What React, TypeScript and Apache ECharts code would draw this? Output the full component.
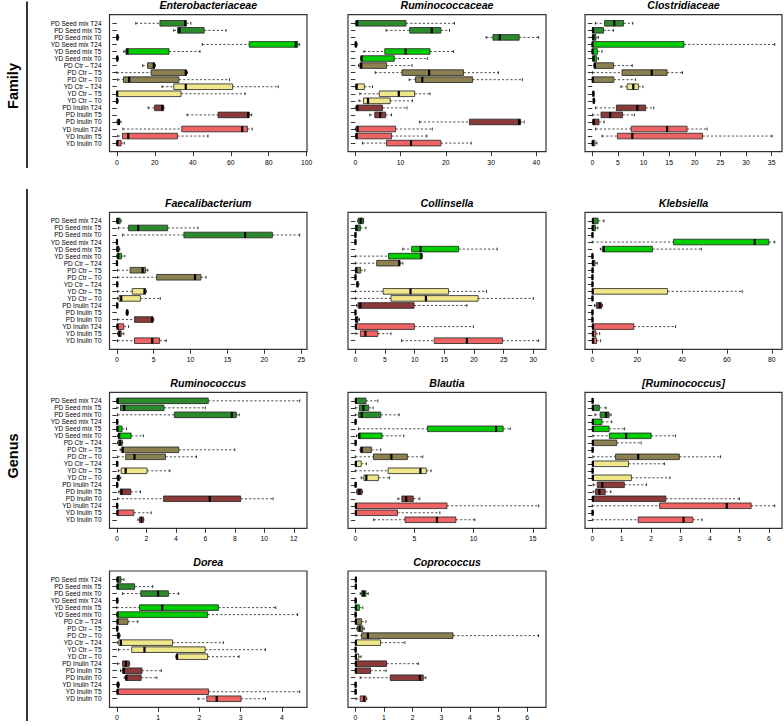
import React, { useEffect, useRef } from 'react';
import * as echarts from 'echarts';

const categories = [
  'PD Seed mix T24', 'PD Seed mix T5', 'PD Seed mix T0',
  'YD Seed mix T24', 'YD Seed mix T5', 'YD Seed mix T0',
  'PD Ctr – T24', 'PD Ctr – T5', 'PD Ctr – T0',
  'YD Ctr – T24', 'YD Ctr – T5', 'YD Ctr – T0',
  'PD Inulin T24', 'PD Inulin T5', 'PD Inulin T0',
  'YD Inulin T24', 'YD Inulin T5', 'YD Inulin T0',
];

const groupColors = ['#2b8a2b', '#00cd00', '#8b8050', '#f0e68c', '#8b3a3a', '#ee6363'];

// each row: [lower whisker, Q1, median, Q3, upper whisker]
const enterobacteriaceae = [
  [10, 22.7, 36, 36.6, 39], [30, 32, 33, 46, 57.5], [0, 0.1, 0.3, 0.6, 1],
  [45, 69.7, 94.2, 95.3, 96.3], [3.7, 4.8, 5.6, 27.5, 43.8], [0, 0.1, 0.2, 0.5, 0.8],
  [13.6, 16.2, 19.5, 19.9, 20.3], [0, 18.1, 36.3, 36.6, 37.2], [0.5, 3.5, 6.5, 32.7, 59.3],
  [23.8, 30, 36.3, 61, 85], [0, 0, 0.2, 33.8, 67.6], [0, 0, 0.1, 0.4, 0.7],
  [16.5, 19.9, 24, 24.5, 24.8], [37, 53.3, 69.2, 69.7, 71], [0, 0.5, 1, 1.4, 2.2],
  [3.2, 34.2, 66, 68.8, 71.3], [0.5, 3, 6, 31.9, 48], [0, 0.1, 0.3, 2.3, 3.9],
];
const ruminococcaceae = [
  [0, 0.1, 0.4, 11.2, 21.9], [6.8, 12, 16.9, 18.9, 20.8], [28.9, 30.4, 31.9, 36.2, 40.5],
  [0, 0, 0.1, 0.3, 0.4], [1.9, 6.5, 11.1, 16.5, 21.7], [1.2, 1.25, 1.4, 8.6, 15.9],
  [0.7, 1, 1.3, 6.9, 12.5], [4.4, 10.3, 16.3, 23.9, 31.6], [11.9, 13.3, 14.8, 25.9, 36.9],
  [0, 0.1, 0.3, 2, 3.8], [1, 5.3, 9.6, 13.1, 16.5], [0.8, 1.8, 2.8, 7.7, 12.6],
  [0, 0.2, 0.45, 6, 11.4], [3.2, 4.3, 5.5, 6.7, 8], [14.2, 25.2, 36.2, 36.5, 37.3],
  [0, 0.2, 0.5, 8.9, 17], [0, 0.1, 0.3, 8, 15.8], [1.6, 6.9, 12.3, 18.9, 25.6],
];
const clostridiaceae = [
  [0.6, 2.4, 4.3, 6.1, 7.9], [0, 0.05, 0.15, 2.2, 4.1], [0, 0.05, 0.2, 0.7, 1.2],
  [0, 0, 0.05, 17.9, 35.6], [0, 0, 0.05, 1, 1.9], [0.05, 0.1, 0.25, 0.85, 1.2],
  [0.3, 0.4, 0.5, 4.15, 7.8], [0.05, 5.8, 11.6, 14.6, 17.6], [0, 0.02, 0.1, 4.2, 8.4],
  [5.6, 6.8, 8, 9, 9.9], [0.1, 0.15, 0.2, 0.3, 0.35], [0.15, 0.2, 0.3, 0.4, 0.5],
  [0.65, 4.7, 8.8, 10.4, 12], [0.05, 1.7, 3.5, 5.9, 8.2], [0.05, 0.1, 0.3, 1.3, 2.3],
  [0.65, 7.6, 14.6, 18.5, 22.4], [1.9, 4.9, 7.8, 21.5, 35.1], [0, 0.02, 0.1, 0.5, 0.9],
];
const faecalibacterium = [
  [0, 0.02, 0.1, 0.45, 0.6], [0.2, 1.6, 2.9, 6.9, 11], [0.8, 9.1, 17.4, 21.1, 24.8],
  [0, 0, 0.02, 0.05, 0.1], [0, 0.02, 0.1, 0.3, 0.4], [0, 0.05, 0.2, 0.64, 1.1],
  [0, 0, 0.02, 0.05, 0.1], [0.1, 1.8, 3.5, 3.9, 4.2], [0.1, 5.4, 10.6, 11.4, 12.1],
  [0, 0.02, 0.05, 0.1, 0.15], [0.1, 2.1, 3.75, 3.9, 4], [0.1, 0.3, 0.6, 3.2, 5.9],
  [0, 0.02, 0.05, 0.1, 0.15], [1.25, 1.3, 1.4, 1.5, 1.55], [0.1, 2.4, 4.8, 4.9, 5],
  [0, 0.05, 0.1, 0.95, 1.6], [0.1, 0.2, 0.35, 0.6, 0.95], [0.1, 2.4, 4.8, 5.8, 6.7],
];
const collinsella = [
  [0.4, 0.5, 0.9, 1.35, 1.4], [0, 0.05, 0.2, 0.85, 1.8], [0, 0, 0.02, 0.05, 0.1],
  [0, 0, 0.02, 0.05, 0.1], [8, 9.5, 11, 17.4, 23.9], [0, 5.6, 11.1, 11.2, 11.3],
  [0, 3.6, 7.4, 7.5, 8], [0, 0.05, 0.15, 0.9, 1.6], [0, 0, 0.02, 0.05, 0.1],
  [0.2, 0.25, 0.35, 0.5, 0.6], [0, 4.7, 9.3, 15.7, 22.1], [0, 6, 11.9, 20.7, 30],
  [0.2, 0.45, 0.85, 9.9, 18.8], [0, 0, 0.02, 0.05, 0.1], [0, 0.05, 0.15, 0.45, 0.7],
  [0, 0.05, 0.1, 9.95, 19.9], [0.1, 0.85, 1.7, 3.8, 6], [7.8, 13.3, 18.8, 24.8, 30.9],
];
const klebsiella = [
  [0, 0.1, 0.3, 2.6, 5.2], [0, 0.05, 0.2, 1.4, 2.5], [0, 0, 0.05, 0.2, 0.3],
  [0, 36.2, 72.4, 78.7, 81.3], [3.6, 4.5, 5.2, 26.8, 48.6], [0, 0, 0.05, 0.2, 0.3],
  [0, 0.1, 0.3, 1.2, 2.2], [0, 0.02, 0.1, 0.3, 0.5], [0, 0, 0.05, 0.2, 0.3],
  [0, 0, 0.05, 0.2, 0.3], [0, 0.05, 0.2, 33.5, 66.8], [0, 0, 0.05, 0.2, 0.3],
  [1, 1.8, 3.3, 4.15, 4.5], [0, 0, 0.05, 0.2, 0.3], [0, 0, 0.05, 0.2, 0.3],
  [0, 0.1, 0.3, 18.5, 37.1], [0, 0.1, 0.3, 1.6, 3.3], [0, 0.1, 0.3, 1.9, 3.7],
];
const ruminococcus = [
  [0, 0.02, 0.05, 6.2, 12.4], [0, 0.25, 0.5, 3.2, 6], [0.05, 3.9, 7.8, 8.1, 8.3],
  [0, 0, 0.02, 0.05, 0.08], [0, 0.02, 0.05, 0.36, 0.66], [0.05, 0.11, 0.16, 0.97, 1.8],
  [0.05, 0.1, 0.23, 0.36, 0.4], [0.23, 0.34, 0.4, 4.2, 8], [0.05, 0.6, 1.2, 3.3, 5.4],
  [0, 0, 0.02, 0.05, 0.08], [0.1, 0.3, 0.6, 2.05, 3.6], [0, 0.05, 0.1, 0.18, 0.27],
  [0, 0, 0.02, 0.05, 0.08], [0.13, 0.23, 0.32, 0.95, 1.6], [0.05, 3.17, 6.3, 8.4, 10.6],
  [0, 0, 0.02, 0.05, 0.08], [0, 0.02, 0.05, 1.15, 2.33], [1.43, 1.54, 1.67, 1.8, 1.83],
];
const blautia = [
  [0, 0.02, 0.05, 0.9, 1.9], [0, 0.34, 0.68, 1.13, 1.5], [0, 0.28, 0.54, 2.15, 3.7],
  [0, 0, 0.02, 0.05, 0.08], [0.28, 6.1, 11.9, 12.5, 13.1], [0.1, 0.28, 0.34, 2.26, 4.1],
  [0, 0, 0.02, 0.05, 0.08], [0.4, 0.45, 0.54, 1.36, 2.15], [0, 1.53, 3.05, 4.4, 5.7],
  [0, 0.02, 0.05, 0.5, 0.93], [0, 2.77, 5.5, 6.0, 6.4], [0.5, 0.73, 0.93, 1.95, 2.9],
  [0, 0, 0.02, 0.05, 0.08], [0.1, 0.15, 0.35, 0.55, 0.6], [3.6, 3.93, 4.3, 4.9, 5.45],
  [0, 0.02, 0.05, 7.75, 15.5], [0, 0.02, 0.05, 3.56, 7.15], [1.55, 4.2, 6.9, 8.5, 10.1],
];
const ruminococcusBracket = [
  [0, 0, 0.01, 0.02, 0.04], [0, 0.01, 0.02, 0.24, 0.47], [0.09, 0.27, 0.47, 0.57, 0.64],
  [0, 0.01, 0.02, 0.33, 0.66], [0, 0.01, 0.02, 0.57, 1.1], [0.02, 0.58, 1.15, 2.0, 2.83],
  [0, 0.01, 0.02, 0.83, 1.66], [0, 0, 0.01, 0.02, 0.04], [0.02, 0.79, 1.56, 2.96, 4.36],
  [0, 0.01, 0.02, 1.23, 2.45], [0, 0, 0.01, 0.02, 0.04], [0, 0.01, 0.02, 1.33, 2.64],
  [0.03, 0.17, 0.34, 1.09, 1.84], [0.03, 0.11, 0.24, 0.44, 0.63], [0, 0.01, 0.02, 2.5, 5],
  [0, 2.29, 4.57, 5.4, 6.2], [0, 0, 0.01, 0.02, 0.04], [0, 1.56, 3.1, 3.42, 3.73],
];
const dorea = [
  [0, 0.01, 0.02, 0.1, 0.17], [0, 0.01, 0.02, 0.43, 0.87], [0.14, 0.58, 1.0, 1.25, 1.5],
  [0, 0, 0.01, 0.02, 0.03], [0, 0.55, 1.1, 2.46, 3.85], [0, 0.01, 0.02, 2.2, 4.38],
  [0, 0.01, 0.02, 0.27, 0.51], [0, 0, 0.01, 0.02, 0.03], [0.01, 0.02, 0.04, 0.06, 0.08],
  [0.02, 0.05, 0.1, 1.35, 2.58], [0.04, 0.36, 0.67, 2.14, 3.6], [1.43, 1.44, 1.46, 2.2, 2.96],
  [0.02, 0.14, 0.22, 0.3, 0.31], [0.09, 0.14, 0.17, 0.61, 1.08], [0.18, 0.22, 0.23, 0.59, 0.97],
  [0, 0.01, 0.03, 0.05, 0.06], [0, 0.01, 0.02, 2.22, 4.43], [1.97, 2.18, 2.42, 3.01, 3.6],
];
const coprococcus = [
  [0, 0.01, 0.02, 0.03, 0.04], [0, 0.01, 0.02, 0.03, 0.04], [0.17, 0.22, 0.29, 0.37, 0.45],
  [0, 0, 0.01, 0.02, 0.03], [0, 0.01, 0.02, 0.14, 0.26], [0, 0, 0.01, 0.02, 0.03],
  [0, 0.01, 0.02, 0.22, 0.37], [0.05, 0.08, 0.15, 0.26, 0.31], [0.02, 0.22, 0.44, 3.41, 6.4],
  [0, 0.01, 0.02, 0.88, 1.73], [0, 0, 0.01, 0.02, 0.03], [0, 0.01, 0.02, 0.12, 0.2],
  [0, 0.01, 0.02, 1.09, 2.2], [0, 0.01, 0.02, 0.53, 1.07], [0.17, 1.22, 2.25, 2.37, 2.46],
  [0, 0, 0.01, 0.02, 0.03], [0, 0, 0.01, 0.02, 0.03], [0.02, 0.17, 0.3, 0.37, 0.4],
];

const ticksEntero = [0, 20, 40, 60, 80, 100];
const ticksRuminoFam = [0, 10, 20, 30, 40];
const ticksClostri = [0, 5, 10, 15, 20, 25, 30, 35];
const ticksFaecali = [0, 5, 10, 15, 20, 25];
const ticksCollinsella = [0, 5, 10, 15, 20, 25, 30];
const ticksKlebsiella = [0, 20, 40, 60, 80];
const ticksRuminococcus = [0, 2, 4, 6, 8, 10, 12];
const ticksBlautia = [0, 5, 10, 15];
const ticksRuminoBracket = [0, 1, 2, 3, 4, 5, 6];
const ticksDorea = [0, 1, 2, 3, 4];
const ticksCoprococcus = [0, 1, 2, 3, 4, 5, 6];

const panels = [
  { title: 'Enterobacteriaceae', data: enterobacteriaceae, ticks: ticksEntero, col: 0, row: 0 },
  { title: 'Ruminococcaceae', data: ruminococcaceae, ticks: ticksRuminoFam, col: 1, row: 0 },
  { title: 'Clostridiaceae', data: clostridiaceae, ticks: ticksClostri, col: 2, row: 0 },
  { title: 'Faecalibacterium', data: faecalibacterium, ticks: ticksFaecali, col: 0, row: 1 },
  { title: 'Collinsella', data: collinsella, ticks: ticksCollinsella, col: 1, row: 1 },
  { title: 'Klebsiella', data: klebsiella, ticks: ticksKlebsiella, col: 2, row: 1 },
  { title: 'Ruminococcus', data: ruminococcus, ticks: ticksRuminococcus, col: 0, row: 2 },
  { title: 'Blautia', data: blautia, ticks: ticksBlautia, col: 1, row: 2 },
  { title: '[Ruminococcus]', data: ruminococcusBracket, ticks: ticksRuminoBracket, col: 2, row: 2 },
  { title: 'Dorea', data: dorea, ticks: ticksDorea, col: 0, row: 3 },
  { title: 'Coprococcus', data: coprococcus, ticks: ticksCoprococcus, col: 1, row: 3 },
];

const colL = [109.5, 348, 585];
const colR = [307, 546, 782];
const rowT = [14.7, 212.3, 392.3, 571];
const rowB = [151.7, 349.3, 528.3, 707.3];
const FONT = "'Liberation Sans', Arial, Helvetica, sans-serif";

function renderBox(params: any, api: any) {
  const idx = api.value(0);
  const y = api.coord([0, idx])[1];
  const xs = [1, 2, 3, 4, 5].map((i) => api.coord([api.value(i), idx])[0]);
  const band = api.size([0, 1])[1];
  const h = band * 0.8;
  const cap = h * 0.25;
  const color = groupColors[Math.floor(idx / 3)];
  const dash = { stroke: '#000', lineWidth: 0.7, lineDash: [2.2, 2] };
  const solid = { stroke: '#000', lineWidth: 0.8 };
  return {
    type: 'group',
    children: [
      { type: 'line', shape: { x1: xs[0], y1: y, x2: xs[1], y2: y }, style: dash },
      { type: 'line', shape: { x1: xs[3], y1: y, x2: xs[4], y2: y }, style: dash },
      { type: 'line', shape: { x1: xs[0], y1: y - cap, x2: xs[0], y2: y + cap }, style: solid },
      { type: 'line', shape: { x1: xs[4], y1: y - cap, x2: xs[4], y2: y + cap }, style: solid },
      {
        type: 'rect',
        shape: { x: xs[1], y: y - h / 2, width: Math.max(xs[3] - xs[1], 0.3), height: h },
        style: { fill: color, stroke: '#222', lineWidth: 0.8 },
      },
      { type: 'line', shape: { x1: xs[2], y1: y - h / 2, x2: xs[2], y2: y + h / 2 }, style: { stroke: '#000', lineWidth: 2.2 } },
    ],
  };
}

export default function App() {
  const ref = useRef<HTMLDivElement>(null);
  useEffect(() => {
    if (!ref.current) return;
    const chart = echarts.init(ref.current, undefined, { renderer: 'svg' });
    const grids: any[] = [];
    const xAxes: any[] = [];
    const yAxes: any[] = [];
    const series: any[] = [];
    const graphics: any[] = [];
    panels.forEach((p, i) => {
      const L = colL[p.col];
      const R = colR[p.col];
      const T = rowT[p.row];
      const B = rowB[p.row];
      const H = B - T;
      const unit = H / 19.44;
      const inset = 1.22 * unit - unit / 2;
      const dmax = Math.max(...p.data.map((r) => r[4]));
      const dmin = Math.min(0, ...p.data.map((r) => r[0]));
      const span = dmax - dmin;
      grids.push({
        left: L,
        width: R - L,
        top: T + inset,
        height: H - 2 * inset,
        outerBoundsMode: 'none',
        containLabel: false,
      });
      xAxes.push({
        type: 'value',
        gridIndex: i,
        min: dmin - 0.04 * span,
        max: dmax + 0.04 * span,
        offset: inset,
        axisLine: { show: false },
        splitLine: { show: false },
        axisTick: { show: true, length: 4.5, customValues: p.ticks, lineStyle: { color: '#000', width: 0.8 } },
        axisLabel: { customValues: p.ticks, margin: 7, fontSize: 6.8, color: '#000', fontFamily: FONT },
      });
      yAxes.push({
        type: 'category',
        gridIndex: i,
        data: categories,
        inverse: true,
        axisLine: { show: false },
        splitLine: { show: false },
        axisTick: { show: true, alignWithLabel: true, length: 4.5, lineStyle: { color: '#000', width: 0.8 } },
        axisLabel: { show: p.col === 0, margin: 8, fontSize: 6.5, color: '#000', fontFamily: FONT, interval: 0 },
      });
      series.push({
        type: 'custom',
        xAxisIndex: i,
        yAxisIndex: i,
        coordinateSystem: 'cartesian2d',
        renderItem: renderBox,
        encode: { x: [1, 2, 3, 4, 5], y: 0 },
        data: p.data.map((r, k) => [k, ...r]),
        silent: true,
      });
      graphics.push({
        type: 'rect',
        silent: true,
        shape: { x: L, y: T, width: R - L, height: H },
        style: { fill: 'none', stroke: '#333', lineWidth: 1.2 },
      });
      graphics.push({
        type: 'text',
        silent: true,
        x: (L + R) / 2,
        y: T - 9.5,
        style: {
          text: p.title,
          fill: '#000',
          font: `italic bold 10.6px ${FONT}`,
          align: 'center',
          verticalAlign: 'middle',
        },
      });
    });
    graphics.push(
      { type: 'line', silent: true, shape: { x1: 27, y1: 1.5, x2: 27, y2: 168 }, style: { stroke: '#000', lineWidth: 1.6 } },
      { type: 'line', silent: true, shape: { x1: 27, y1: 189, x2: 27, y2: 721 }, style: { stroke: '#000', lineWidth: 1.6 } },
      {
        type: 'text', silent: true, x: 12.5, y: 86, rotation: Math.PI / 2,
        style: { text: 'Family', fill: '#000', font: `bold 14.5px ${FONT}`, align: 'center', verticalAlign: 'middle' },
      },
      {
        type: 'text', silent: true, x: 12.5, y: 456, rotation: Math.PI / 2,
        style: { text: 'Genus', fill: '#000', font: `bold 14.5px ${FONT}`, align: 'center', verticalAlign: 'middle' },
      }
    );
    chart.setOption({
      animation: false,
      backgroundColor: '#fff',
      grid: grids,
      xAxis: xAxes,
      yAxis: yAxes,
      series,
      graphic: graphics,
    });
    return () => chart.dispose();
  }, []);
  return <div ref={ref} style={{ position: 'fixed', left: 0, top: 0, width: 784, height: 726 }} />;
}
